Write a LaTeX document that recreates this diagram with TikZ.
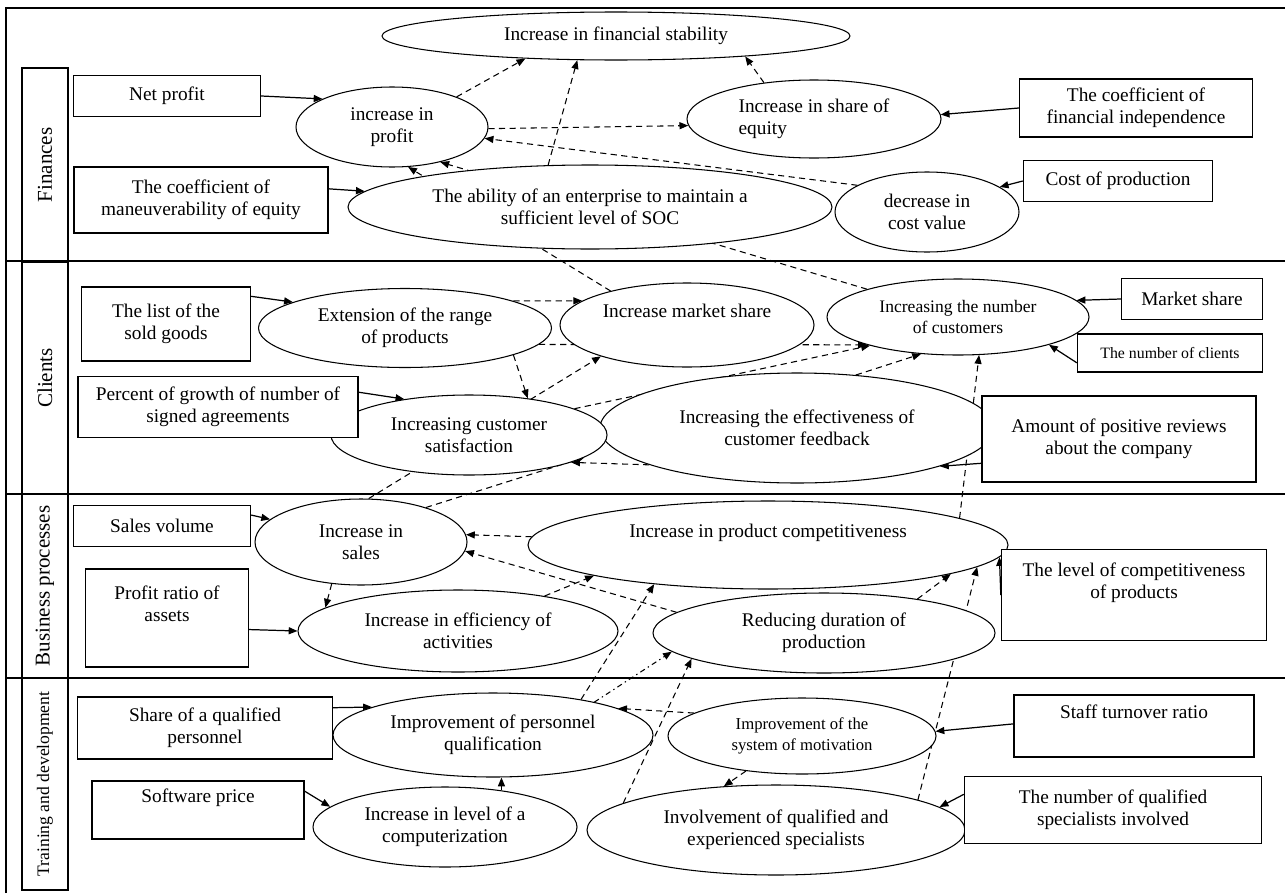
\documentclass[tikz,border=0pt]{standalone}
\usepackage{fontspec}
\setmainfont{Liberation Serif}
\usetikzlibrary{arrows.meta,shapes.geometric}
\pgfdeclarelayer{bg}
\pgfsetlayers{bg,main}
\tikzset{
  goal/.style={ellipse, draw, fill=white, line width=0.6pt, align=center, inner sep=0pt, font=\fontsize{11}{12.5}\selectfont},
  kpi/.style={rectangle, draw, fill=white, line width=0.8pt, align=center, inner sep=2pt, font=\fontsize{11}{12.5}\selectfont},
  lane/.style={rectangle, draw, line width=0.8pt, rotate=90, minimum height=0.92cm, font=\fontsize{12}{14}\selectfont},
  frame/.style={line width=0.9pt},
  feed/.style={-{Triangle[length=5pt,width=4pt]}, line width=0.7pt},
  dep/.style={-{Triangle[length=5pt,width=4pt]}, line width=0.6pt, dash pattern=on 3.5pt off 2.5pt},
}

\begin{document}
\begin{tikzpicture}[x=0.2mm,y=-0.2mm]
  \useasboundingbox (0,0) rectangle (1285,893);

  %% frame and lanes
  \draw[frame] (6,893) -- (6,8) -- (1285,8);
  \draw[frame] (6,261) -- (1285,261);
  \draw[frame] (6,494) -- (1285,494);
  \draw[frame] (6,678) -- (1285,678);
  \node[lane, minimum width=3.88cm] (finlane) at (45,165) {Finances};
  \node[lane, minimum width=4.64cm] (clilane) at (45,378) {Clients};
  \node[lane, minimum width=3.68cm] (buslane) at (45,586) {Business processes};
  \node[lane, minimum width=4.24cm, font=\fontsize{10}{12}\selectfont] (trnlane) at (45,784) {Training and development};

  %% Finances
  \node[goal, minimum width=9.36cm, minimum height=0.96cm] (finstab) at (616,36) {Increase in financial stability};
  \node[goal, minimum width=3.84cm, minimum height=1.6cm]  (profit)  at (392,127) {increase in\\profit};
  \node[goal, minimum width=5.08cm, minimum height=1.56cm, align=left] (equity) at (814,119) {Increase in share of\\equity};
  \node[goal, minimum width=9.68cm, minimum height=1.68cm] (soc)     at (590,207) {The ability of an enterprise to maintain a\\sufficient level of SOC};
  \node[goal, minimum width=3.68cm, minimum height=1.6cm]  (cost)    at (927,212) {decrease in\\cost value};
  \node[kpi, minimum width=3.74cm, minimum height=0.82cm] (netprofit) at (167,96)  {Net profit};
  \node[kpi, minimum width=5.08cm, minimum height=1.32cm] (coefman)   at (201,200) {The coefficient of\\maneuverability of equity};
  \node[kpi, minimum width=4.66cm, minimum height=1.16cm] (coeffin)   at (1136,108) {The coefficient of\\financial independence};
  \node[kpi, minimum width=3.78cm, minimum height=0.82cm] (costprod)  at (1118,181) {Cost of production};

  %% Clients
  \node[goal, minimum width=5.86cm, minimum height=1.58cm] (range)    at (405,328) {Extension of the range\\of products};
  \node[goal, minimum width=5.08cm, minimum height=1.68cm] (mshare)   at (687,325) {Increase market share\\\strut};
  \node[goal, minimum width=5.24cm, minimum height=1.52cm, font=\fontsize{10}{12.5}\selectfont] (ncust) at (958,317) {Increasing the number\\of customers};
  \node[goal, minimum width=7.88cm, minimum height=2.2cm]  (feedback) at (797,428) {Increasing the effectiveness of\\customer feedback};
  \node[goal, minimum width=5.52cm, minimum height=1.6cm]  (satisf)   at (469,435) {Increasing customer\\satisfaction};
  \node[kpi, minimum width=3.38cm, minimum height=1.48cm] (listgoods) at (166,324) {The list of the\\sold goods};
  \node[kpi, minimum width=5.6cm, minimum height=1.22cm]  (percent)   at (218,407) {Percent of growth of number of\\signed agreements};
  \node[kpi, minimum width=2.82cm, minimum height=0.82cm] (mktsh)     at (1192,299) {Market share};
  \node[kpi, minimum width=3.7cm, minimum height=0.76cm, font=\fontsize{9}{11}\selectfont] (nclients) at (1170,353) {The number of clients};
  \node[kpi, minimum width=5.48cm, minimum height=1.72cm] (reviews)   at (1119,439) {Amount of positive reviews\\about the company};

  %% Business processes
  \node[goal, minimum width=4.24cm, minimum height=1.72cm] (sales)    at (361,542) {Increase in\\sales};
  \node[goal, minimum width=9.6cm, minimum height=1.76cm]  (compet)   at (768,545) {Increase in product competitiveness\\\strut};
  \node[goal, minimum width=6.4cm, minimum height=1.64cm]  (effic)    at (458,631) {Increase in efficiency of\\activities};
  \node[goal, minimum width=6.84cm, minimum height=1.6cm]  (duration) at (824,633) {Reducing duration of\\production};
  \node[kpi, minimum width=3.54cm, minimum height=0.82cm] (salesvol)    at (162,526) {Sales volume};
  \node[kpi, minimum width=3.26cm, minimum height=1.96cm] (profitratio) at (167,618) {Profit ratio of\\assets\\\strut};
  \node[kpi, minimum width=5.3cm, minimum height=1.82cm]  (level)       at (1134,595) {The level of competitiveness\\of products\\\strut};

  %% Training and development
  \node[goal, minimum width=6.4cm, minimum height=1.68cm]  (qualif)  at (493,735) {Improvement of personnel\\qualification};
  \node[goal, minimum width=5.36cm, minimum height=1.52cm, font=\fontsize{9.5}{12}\selectfont] (motiv) at (802,736) {Improvement of the\\system of motivation};
  \node[goal, minimum width=5.28cm, minimum height=1.6cm]  (comput)  at (445,827) {Increase in level of a\\computerization};
  \node[goal, minimum width=7.56cm, minimum height=1.8cm]  (involve) at (776,830) {Involvement of qualified and\\experienced specialists};
  \node[kpi, minimum width=5.1cm, minimum height=1.24cm]  (sharequal) at (205,728) {Share of a qualified\\personnel};
  \node[kpi, minimum width=4.24cm, minimum height=1.16cm] (software)  at (198,810) {Software price\\\strut};
  \node[kpi, minimum width=4.8cm, minimum height=1.24cm]  (staff)     at (1134,726) {Staff turnover ratio\\\strut};
  \node[kpi, minimum width=5.94cm, minimum height=1.34cm] (nqual)     at (1113,810) {The number of qualified\\specialists involved};

  \begin{pgfonlayer}{bg}
    %% indicators to goals
    \draw[feed] (netprofit.east) -- (profit.158);
    \draw[feed] (coefman.5) -- (soc.176);
    \draw[feed] (coeffin.west) -- (equity.2);
    \draw[feed] (costprod.west) -- (cost.19);
    \draw[feed] (listgoods.18) -- (range.167);
    \draw[feed] (percent.6) -- (satisf.151);
    \draw[feed] (mktsh.west) -- (ncust.8);
    \draw[feed] (nclients.186) -- (ncust.-17);
    \draw[feed] (reviews.190) -- (feedback.345);
    \draw[feed] (salesvol.7) -- (sales.166);
    \draw[feed] (profitratio.-8) -- (effic.west);
    \draw[feed] (level.west) -- (compet.-3.5);
    \draw[feed] (sharequal.9) -- (qualif.167);
    \draw[feed] (software.10) -- (comput.170);
    \draw[feed] (staff.179) -- (motiv.2);
    \draw[feed] (nqual.174) -- (involve.8);
    \draw[feed] (comput.33) -- (comput.33 |- qualif.south);

    %% goal to goal
    \draw[dep] (profit.25) -- (finstab.194);
    \draw[dep] (soc.135) -- (finstab.212);
    \draw[dep] (equity.144) -- (finstab.-9);
    \draw[dep] (profit.-1) -- (equity.183);
    \draw[dep] (cost.159) -- (profit.-7);
    \draw[dep] (mshare.156) -- (profit.292);
    \draw[dep] (ncust.163) -- (profit.324);
    \draw[dep] (range.14) -- (mshare.167);
    \draw[dep] (range.-7) -- (ncust.197);
    \draw[dep] (range.-14) -- (satisf.32);
    \draw[dep] (sales.80) -- (mshare.200);
    \draw[dep] (satisf.14) -- (ncust.198);
    \draw[dep] (feedback.42) -- (ncust.225);
    \draw[dep] (compet.8) -- (ncust.299);
    \draw[dep] (feedback.194) -- (satisf.-15);
    \draw[dep] (sales.28) -- (satisf.-11);
    \draw[dep] (compet.178) -- (sales.4);
    \draw[dep] (duration.172) -- (sales.-5);
    \draw[dep] (effic.22) -- (compet.190);
    \draw[dep] (sales.235) -- (effic.170);
    \draw[dep] (duration.20) -- (compet.-9);
    \draw[dep] (involve.12) -- (compet.-6);
    \draw[dep] (qualif.22) -- (compet.199);
    \draw[dep, dash pattern=on 3pt off 2pt on 0.8pt off 2pt] (qualif.18) -- (duration.187);
    \draw[dep] (involve.170) -- (duration.191);
    \draw[dep] (motiv.168) -- (qualif.12);
    \draw[dep] (motiv.212) -- (involve.140);
  \end{pgfonlayer}
\end{tikzpicture}
\end{document}
